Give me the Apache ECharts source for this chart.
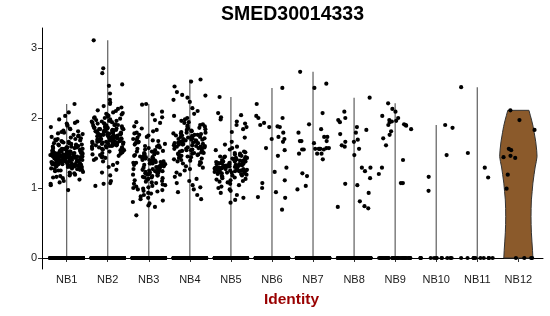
<!DOCTYPE html>
<html><head><meta charset="utf-8">
<script src="https://cdn.jsdelivr.net/npm/echarts@6/dist/echarts.min.js"></script>
<style>html,body{margin:0;padding:0;background:#fff}#c{width:550px;height:316px}</style>
</head><body><div id="c"></div>
<script>
const categories = ['NB1','NB2','NB3','NB4','NB5','NB6','NB7','NB8','NB9','NB10','NB11','NB12'];
const yTicks = [0, 1, 2, 3];
const chartTitle = 'SMED30014333';
const xTitle = 'Identity';

const nb1 = [2.20,2.08,2.03,1.98,1.95,1.93,1.92,1.90,1.89,1.87,1.85,1.84,1.82,1.81,1.80,
1.79,1.78,1.77,1.76,1.75,1.74,1.73,1.72,1.71,1.70,1.70,1.69,1.68,1.68,1.67,1.66,1.66,1.65,1.64,1.64,1.63,1.62,1.62,1.61,1.60,
1.60,1.59,1.59,1.58,1.58,1.57,1.57,1.56,1.56,1.55,1.55,1.54,1.54,1.54,1.53,1.53,1.52,1.52,1.52,1.51,1.51,1.50,1.50,1.50,1.49,1.49,1.49,1.48,1.48,1.48,1.47,1.47,1.47,1.46,1.46,1.46,1.45,1.45,1.45,1.45,1.44,1.44,1.44,1.43,1.43,1.43,1.42,1.42,1.42,1.41,1.41,1.41,1.40,1.40,1.40,1.39,1.39,1.38,1.38,1.38,1.37,1.37,1.36,1.36,1.35,1.35,1.34,1.34,1.33,1.33,1.32,1.32,1.31,1.30,1.30,1.29,1.28,1.27,1.26,1.25,1.24,1.23,1.22,1.21,1.20,1.19,1.18,1.17,1.16,1.15,1.14,1.12,1.10,1.08,1.06,1.04,0.97,
1.58,1.56,1.55,1.53,1.52,1.51,1.50,1.49,1.48,1.47,1.46,1.45,1.44,1.44,1.43,1.42,1.41,1.40,1.39,1.38,1.37,1.36,1.35,1.34,1.33,1.32,1.31,1.30,1.29,1.28,1.27,1.26,1.50,1.47,1.44,1.41,1.38,1.35,1.32,1.29,1.46,1.43,1.40,1.37,1.34,1.31,1.28,1.25,1.62,1.57];
const nb2 = [3.11,2.71,2.64,2.48,2.46,2.35,2.26,2.22,2.20,2.17,2.15,2.13,2.11,2.10,2.08,2.07,2.06,2.05,2.04,2.03,2.02,2.01,2.00,2.00,1.99,1.98,1.97,1.96,1.96,1.95,1.94,1.93,1.92,1.92,1.91,1.90,1.90,1.89,1.88,1.88,1.87,1.86,1.86,1.85,1.85,1.84,1.84,1.83,1.83,1.82,1.82,1.81,1.81,1.80,1.80,1.79,1.79,1.78,1.78,1.77,1.77,1.76,1.76,1.75,1.75,1.74,1.74,1.73,1.73,1.72,1.72,1.71,1.71,1.70,1.70,1.69,1.69,1.68,1.68,1.67,1.67,1.66,1.66,1.65,1.65,1.64,1.64,1.63,1.63,1.62,1.62,1.61,1.61,1.60,1.60,1.59,1.58,1.58,1.57,1.56,1.56,1.55,1.54,1.54,1.53,1.52,1.51,1.50,1.49,1.48,1.47,1.46,1.45,1.44,1.43,1.42,1.40,1.38,1.36,1.33,1.30,1.26,1.22,1.18,1.10,1.07,1.06,1.03,
1.95,1.92,1.89,1.86,1.84,1.82,1.80,1.78,1.76,1.74,1.72,1.70,1.68,1.66,1.64,1.62,1.60,1.58,1.90,1.85,1.81,1.77,1.73,1.69,1.65,1.61,1.88,1.83,1.79,1.75,1.71,1.67];
const nb3 = [2.20,2.19,2.09,2.05,2.01,1.97,1.94,1.93,1.88,1.85,1.83,1.81,1.79,1.78,1.76,1.75,1.73,1.72,1.70,1.69,1.68,1.67,1.66,1.65,1.64,1.63,1.62,1.61,1.60,1.59,1.58,1.57,1.56,1.55,1.54,1.53,1.52,1.51,1.50,1.49,1.48,1.47,1.46,1.45,1.44,1.43,1.43,1.42,1.41,1.40,1.40,1.39,1.38,1.37,1.37,1.36,1.35,1.35,1.34,1.33,1.33,1.32,1.31,1.31,1.30,1.29,1.29,1.28,1.27,1.27,1.26,1.25,1.25,1.24,1.23,1.22,1.22,1.21,1.20,1.19,1.19,1.18,1.17,1.16,1.15,1.14,1.13,1.12,1.11,1.10,1.09,1.08,1.07,1.06,1.05,1.04,1.03,1.02,1.01,1.00,0.99,0.98,0.97,0.96,0.95,0.93,0.92,0.90,0.88,0.86,0.84,0.82,0.80,0.78,0.75,0.73,0.61,
1.52,1.48,1.45,1.42,1.39,1.36,1.33,1.30,1.27,1.24,1.21,1.18,1.44,1.38,1.32,1.26,1.20,1.15,1.50,1.35];
const nb4 = [2.55,2.52,2.45,2.37,2.33,2.32,2.29,2.26,2.23,2.14,2.10,2.06,2.03,2.00,1.98,1.96,1.94,1.93,1.91,1.90,1.89,1.88,1.87,1.86,1.85,1.84,1.83,1.82,1.81,1.80,1.79,1.79,1.78,1.77,1.76,1.76,1.75,1.74,1.73,1.73,1.72,1.71,1.70,1.70,1.69,1.68,1.67,1.67,1.66,1.65,1.64,1.64,1.63,1.62,1.61,1.61,1.60,1.59,1.58,1.58,1.57,1.56,1.55,1.55,1.54,1.53,1.52,1.52,1.51,1.50,1.49,1.49,1.48,1.47,1.46,1.46,1.45,1.44,1.43,1.42,1.41,1.40,1.39,1.38,1.37,1.36,1.35,1.33,1.31,1.29,1.27,1.25,1.22,1.19,1.16,1.13,1.10,1.07,1.04,1.01,0.98,0.94,0.90,0.84,
1.78,1.75,1.72,1.69,1.66,1.63,1.60,1.57,1.54,1.51,1.48,1.45,1.74,1.68,1.62,1.56,1.50,1.71,1.65,1.59];
const nb5 = [2.30,2.07,2.04,2.01,1.98,1.95,1.92,1.90,1.87,1.84,1.80,1.72,1.66,1.62,1.59,1.57,1.55,1.54,1.52,1.51,1.50,1.49,1.48,1.47,1.46,1.45,1.45,1.44,1.43,1.43,1.42,1.41,1.41,1.40,1.40,1.39,1.39,1.38,1.38,1.37,1.37,1.36,1.36,1.35,1.35,1.34,1.34,1.33,1.33,1.33,1.32,1.32,1.31,1.31,1.31,1.30,1.30,1.30,1.29,1.29,1.28,1.28,1.28,1.27,1.27,1.26,1.26,1.25,1.25,1.24,1.24,1.23,1.23,1.22,1.22,1.21,1.21,1.20,1.19,1.18,1.17,1.16,1.15,1.14,1.13,1.12,1.11,1.10,1.09,1.08,1.06,1.04,1.02,1.00,0.98,0.96,0.93,0.90,0.86,0.83,0.79,
1.42,1.39,1.36,1.34,1.32,1.30,1.28,1.26,1.24,1.22,1.38,1.33,1.29,1.25,1.35,1.31,1.27,1.44,1.20,1.18];
const nb6 = [2.43,2.20,2.03,2.00,2.00,1.93,1.90,1.88,1.87,1.87,1.79,1.73,1.70,1.70,1.66,1.57,1.54,1.46,1.29,1.23,1.11,1.07,1.00,0.94,0.87,0.86,0.69];
const nb7 = [2.66,2.49,2.43,2.07,1.91,1.84,1.79,1.73,1.73,1.67,1.67,1.67,1.64,1.57,1.56,1.56,1.55,1.56,1.57,1.55,1.56,1.55,1.49,1.49,1.49,1.41,1.21,1.17,1.03,0.98];
const nb8 = [2.29,2.09,2.00,1.97,1.94,1.87,1.83,1.79,1.77,1.69,1.66,1.66,1.61,1.59,1.56,1.47,1.29,1.29,1.24,1.14,1.06,1.04,0.93,0.81,0.74,0.73,0.71];
const nb9 = [2.21,2.13,2.09,2.03,2.00,1.97,1.96,1.95,1.94,1.91,1.90,1.90,1.89,1.84,1.81,1.76,1.71,1.61,1.40,1.29,1.20,1.07,1.07];
const nb10 = [1.90,1.86,1.47,1.16,0.96];
const nb11 = [2.44,1.50,1.29,1.15];
const nb12 = [2.11,1.97,1.83,1.56,1.54,1.46,1.44,1.43,1.19,0.99];
const zeroCounts = [500,500,420,420,420,320,320,320,40,12,10,4];
// NB12 violin outline: [expression value] and [relative density]
const nb12DensityY = [0, 0.11, 0.23, 0.36, 0.48, 0.59, 0.71, 0.83, 0.95, 1.07, 1.19, 1.30, 1.38, 1.45, 1.54, 1.66, 1.79, 1.88, 1.97, 2.04, 2.11];
const nb12DensityW = [0.77, 0.75, 0.72, 0.69, 0.675, 0.67, 0.675, 0.69, 0.73, 0.77, 0.83, 0.89, 0.95, 0.99, 0.97, 0.92, 0.84, 0.78, 0.70, 0.63, 0.56];

const groups = [nb1,nb2,nb3,nb4,nb5,nb6,nb7,nb8,nb9,nb10,nb11,nb12];
const JIT = 0.4;
function hashU(a, b) { const s = Math.sin(a * 12.9898 + b * 78.233) * 43758.5453; return s - Math.floor(s); }
const pts = [];
groups.forEach((vals, g) => {
  vals.forEach((v, i) => {
    const u = hashU(i + 1, g + 1);
    pts.push([g + 1 + (u - 0.5) * 2 * JIT, v]);
  });
  for (let i = 0; i < zeroCounts[g]; i++) {
    const u = hashU(i + 1000, g + 7);
    pts.push([g + 1 + (u - 0.5) * 2 * JIT, 0]);
  }
});
const lineData = groups.slice(0, 11).map((vals, g) => [g + 1, Math.max.apply(null, vals)]);

const chart = echarts.init(document.getElementById('c'), null, {renderer: 'canvas'});
const FONT = '"Liberation Sans", Arial, Helvetica, sans-serif';
chart.setOption({
  animation: false,
  backgroundColor: '#fff',
  grid: {left: 42, right: 7, top: 28, bottom: 47, containLabel: false},
  xAxis: {
    type: 'value', min: 0.4, max: 12.6,
    splitLine: {show: false},
    axisLine: {lineStyle: {color: '#000', width: 1}},
    axisTick: {customValues: categories.map((c, i) => i + 1), length: 4, lineStyle: {color: '#333'}},
    axisLabel: {customValues: categories.map((c, i) => i + 1), formatter: v => categories[Math.round(v) - 1],
      fontSize: 11, color: '#1a1a1a', fontFamily: FONT, margin: 5}
  },
  yAxis: {
    type: 'value', min: -0.157, max: 3.286,
    splitLine: {show: false},
    axisLine: {show: true, lineStyle: {color: '#000', width: 1}},
    axisTick: {show: true, customValues: yTicks, length: 4, lineStyle: {color: '#333'}},
    axisLabel: {customValues: yTicks, fontSize: 11, color: '#1a1a1a', fontFamily: FONT, margin: 5}
  },
  graphic: [
    {type: 'text', x: 292.5, y: 15, style: {text: chartTitle, align: 'center', verticalAlign: 'middle',
      fontSize: 19.5, fontWeight: 'bold', fontFamily: FONT, fill: '#000'}},
    {type: 'text', x: 291.5, y: 299.5, style: {text: xTitle, align: 'center', verticalAlign: 'middle',
      fontSize: 15.5, fontWeight: 'bold', fontFamily: FONT, fill: '#990000'}}
  ],
  series: [
    {
      type: 'custom', z: 1, data: lineData,
      renderItem: (params, api) => {
        const a = api.coord([api.value(0), 0]);
        const b = api.coord([api.value(0), api.value(1)]);
        return {type: 'line', shape: {x1: a[0], y1: a[1], x2: b[0], y2: b[1]},
          style: {stroke: '#6a6a6a', lineWidth: 1.3}};
      }
    },
    {
      type: 'custom', z: 1, data: [[12, 0]],
      renderItem: (params, api) => {
        const cx = api.value(0);
        const right = nb12DensityY.map((y, i) => api.coord([cx + nb12DensityW[i] * 0.46, y]));
        const left = nb12DensityY.map((y, i) => api.coord([cx - nb12DensityW[i] * 0.46, y])).reverse();
        return {type: 'polygon', shape: {points: right.concat(left)},
          style: {fill: '#8b5a2b', stroke: '#333', lineWidth: 1, lineJoin: 'round'}};
      }
    },
    {
      type: 'scatter', z: 3, data: pts, symbolSize: 4.2, progressive: 0, large: false,
      itemStyle: {color: '#000', opacity: 1}
    }
  ]
});
</script></body></html>
